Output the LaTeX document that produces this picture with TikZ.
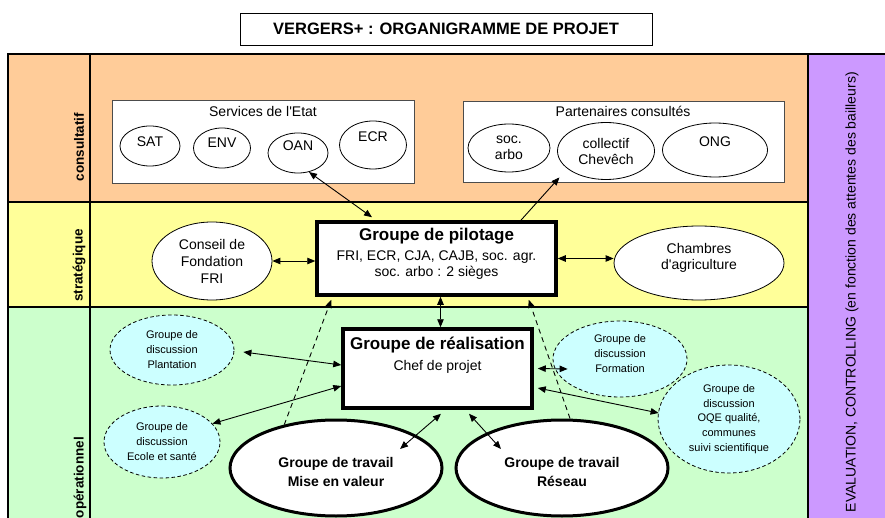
\documentclass[tikz,border=0pt]{standalone}
\usepackage{fontspec}
\setmainfont{Liberation Sans}[Ligatures=TeXOff]
\usetikzlibrary{shapes.geometric,arrows.meta}
\definecolor{vgorange}{HTML}{FFCC99}
\definecolor{vgyellow}{HTML}{FFFF99}
\definecolor{vggreen}{HTML}{CCFFCC}
\definecolor{vgpurple}{HTML}{CC99FF}
\definecolor{vgcyan}{HTML}{CCFFFF}
\newcommand\vgTitle{\fontsize{16.5}{19}\selectfont\bfseries}
\newcommand\vgN{\fontsize{14}{17}\selectfont}
\newcommand\vgNb{\fontsize{14}{16}\selectfont}
\newcommand\vgS{\fontsize{11}{15}\selectfont}
\newcommand\vgSb{\fontsize{11}{14.8}\selectfont}
\newcommand\vgH{\fontsize{17}{20}\selectfont\bfseries}
\newcommand\vgL{\fontsize{13.5}{16}\selectfont\bfseries}
\newcommand\vgW{\fontsize{14}{19}\selectfont\bfseries}
\newcommand\vgDp[1]{\rule[-#1pt]{0pt}{#1pt}}
\tikzset{
  plainell/.style={ellipse, draw, line width=0.8pt, fill=white, inner sep=0pt, align=center, font=\vgN},
  discell/.style={ellipse, draw, dashed, dash pattern=on 3.5pt off 2.5pt, line width=0.8pt, fill=vgcyan, inner sep=0pt, align=center, font=\vgS},
  travell/.style={ellipse, draw, line width=3pt, fill=white, inner sep=0pt, align=center, font=\vgW},
  bigbox/.style={rectangle, draw, line width=3.5pt, fill=white, inner sep=0pt, align=center, font=\vgNb},
  grpbox/.style={rectangle, draw=black!70, line width=1pt, fill=white, inner sep=0pt},
  rowlabel/.style={rotate=90, anchor=east, inner sep=0pt, font=\vgL},
  conn/.style={line width=0.9pt, {Triangle[length=8pt,width=6.5pt]}-{Triangle[length=8pt,width=6.5pt]}},
  oneconn/.style={line width=0.9pt, -{Triangle[length=8pt,width=6.5pt]}},
  dconn/.style={line width=0.9pt, dashed, dash pattern=on 5pt off 4pt, -{Triangle[length=8pt,width=6.5pt]}},
  frameline/.style={line width=2.5pt}
}
\begin{document}
\begin{tikzpicture}[x=1pt,y=-1pt]
\clip (0,0) rectangle (885,518);
\fill[white] (0,0) rectangle (885,518);
% bands
\fill[vgorange] (8,54) rectangle (808,202);
\fill[vgyellow] (8,202) rectangle (808,307);
\fill[vggreen] (8,307) rectangle (808,530);
\fill[vgpurple] (808,54) rectangle (895,530);
\draw[frameline] (8,530) -- (8,54) -- (895,54);
\draw[frameline] (90,54) -- (90,530);
\draw[frameline] (808,54) -- (808,530);
\draw[frameline] (8,202) -- (808,202);
\draw[frameline] (8,307) -- (808,307);
% title
\node[draw, line width=0.9pt, minimum width=412, minimum height=32, inner sep=0pt, font=\vgTitle] (title) at (446,29) {VERGERS+ : ORGANIGRAMME DE PROJET};
% row labels
\node[rowlabel] (lcons) at (79,113) {consultatif};
\node[rowlabel] (lstrat) at (79,229) {stratégique};
\node[rowlabel] (lop) at (80,437) {opérationnel};
\node[rotate=90, anchor=east, inner sep=0pt, font=\vgN] (leval) at (852,72) {EVALUATION, CONTROLLING (en fonction des attentes des bailleurs)};
% consultatif groups
\node[grpbox, minimum width=302, minimum height=83] (etat) at (263,142.5) {};
\node[font=\vgN] (etatT) at (263,111) {Services de l'Etat};
\node[grpbox, minimum width=321, minimum height=81] (part) at (623.5,142.5) {};
\node[font=\vgN] (partT) at (623,111) {Partenaires consultés};
\node[plainell, minimum width=60, minimum height=40] (sat) at (150,146) {SAT\vgDp{8}};
\node[plainell, minimum width=57, minimum height=40] (env) at (222,148) {ENV\vgDp{10}};
\node[plainell, minimum width=60, minimum height=40] (oan) at (298,153) {OAN\vgDp{14}};
\node[plainell, minimum width=67, minimum height=48] (ecr) at (373,145) {ECR\vgDp{16}};
\node[plainell, minimum width=82, minimum height=48, font=\vgNb] (soc) at (509,148) {soc.\\arbo};
\node[plainell, minimum width=97, minimum height=57, font=\vgNb] (col) at (606,151) {collectif\\Chevêch};
\node[plainell, minimum width=105, minimum height=54] (ong) at (715,150) {ONG\vgDp{16}};
% strategique
\node[bigbox, minimum width=239, minimum height=73] (pil) at (436.5,258.5) {{\vgH Groupe de pilotage}\\[4pt]FRI, ECR, CJA, CAJB, soc. agr.\\soc. arbo : 2 sièges\vgDp{13}};
\node[plainell, minimum width=120, minimum height=78] (con) at (212,261) {Conseil de\\Fondation\\FRI};
\node[plainell, minimum width=170, minimum height=74, font=\vgNb] (cha) at (699,263) {Chambres\\d'agriculture\vgDp{14}};
% operationnel
\node[bigbox, minimum width=189, minimum height=79] (real) at (437.5,368.5) {{\vgH Groupe de réalisation}\\[5pt]Chef de projet\vgDp{29}};
\node[discell, minimum width=124, minimum height=70] (pla) at (172,350) {Groupe de\\discussion\\Plantation};
\node[discell, minimum width=116, minimum height=72] (eco) at (162,442) {Groupe de\\discussion\\Ecole et santé};
\node[discell, minimum width=134, minimum height=76] (form) at (620,359) {Groupe de\\discussion\\Formation\vgDp{10}};
\node[discell, minimum width=142, minimum height=108, font=\vgSb] (oqe) at (729,419) {Groupe de\\discussion\\OQE qualité,\\communes\\suivi scientifique};
\node[travell, minimum width=212, minimum height=96] (mev) at (336,468) {\rule{0pt}{19pt}Groupe de travail\\Mise en valeur};
\node[travell, minimum width=212, minimum height=96] (res) at (562,468) {\rule{0pt}{19pt}Groupe de travail\\Réseau};
% connectors
\draw[conn] (oan.-60) -- ([xshift=-64.5pt,yshift=3pt]pil.north);
\draw[oneconn] ([xshift=83.5pt,yshift=-1pt]pil.north) -- ([xshift=-12pt,yshift=-6pt]col.south west);
\draw[conn] (con.east) -- (con.east -| pil.west);
\draw[conn] (pil.east) -- (pil.east -| cha.west);
\draw[conn] ([xshift=4pt]pil.south) -- ([xshift=4pt]pil.south |- real.north);
\draw[conn] ([xshift=9pt,yshift=-2pt]pla.east) -- ([yshift=3.5pt]real.west);
\draw[conn] (eco.20) -- ([yshift=-17.5pt]real.west);
\draw[conn] ([xshift=4pt]real.east) -- ([xshift=15pt,yshift=-10pt]form.west);
\draw[conn] ([xshift=4pt,yshift=-19.5pt]real.east) -- ([xshift=1pt,yshift=6pt]oqe.west);
\draw[conn] ([xshift=3.5pt,yshift=-4pt]real.south) -- ([xshift=64pt,yshift=19pt]mev.center);
\draw[conn] ([xshift=31.5pt,yshift=-4pt]real.south) -- ([xshift=-61pt,yshift=19pt]res.center);
\draw[dconn] (mev.140) -- ([xshift=16pt,yshift=-3pt]pil.south west);
\draw[dconn] ([xshift=8pt]res.north) -- ([xshift=-29pt,yshift=-3pt]pil.south east);
\end{tikzpicture}
\end{document}
